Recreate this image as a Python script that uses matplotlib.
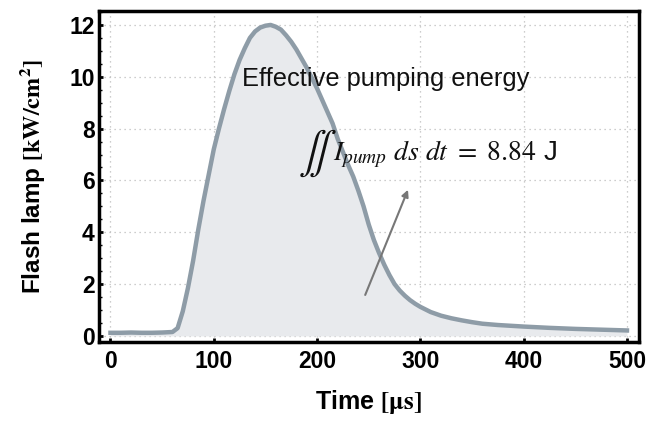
import matplotlib
matplotlib.use("Agg")
import matplotlib.pyplot as plt
from matplotlib.ticker import MultipleLocator

time_us = [0, 10, 20, 30, 40, 50, 60, 65, 70, 75, 80, 85, 90, 95, 100, 105, 110, 115,
           120, 125, 130, 135, 140, 145, 150, 155, 160, 165, 170, 175, 180, 185, 190,
           195, 200, 205, 210, 215, 220, 225, 230, 235, 240, 245, 250, 255, 260, 265,
           270, 275, 280, 285, 290, 295, 300, 310, 320, 330, 340, 350, 360, 375, 400,
           425, 450, 475, 500]
power = [0.12, 0.12, 0.13, 0.12, 0.12, 0.13, 0.15, 0.3, 0.95, 1.85, 2.9, 4.1, 5.2, 6.2,
         7.2, 8.0, 8.75, 9.45, 10.1, 10.65, 11.1, 11.5, 11.75, 11.9, 11.97, 12.0, 11.93,
         11.82, 11.6, 11.35, 11.05, 10.7, 10.35, 9.95, 9.55, 9.1, 8.65, 8.2, 7.6, 7.1,
         6.6, 6.15, 5.6, 5.0, 4.3, 3.7, 3.2, 2.75, 2.35, 2.0, 1.75, 1.55, 1.38, 1.24,
         1.12, 0.92, 0.78, 0.68, 0.6, 0.53, 0.47, 0.42, 0.36, 0.31, 0.27, 0.24, 0.21]

x_ticks = [0, 100, 200, 300, 400, 500]
y_ticks = [0, 2, 4, 6, 8, 10, 12]

plt.rcParams['mathtext.fontset'] = 'stix'
plt.rcParams['font.family'] = ['Liberation Sans', 'DejaVu Sans']

fig = plt.figure(figsize=(6.5, 4.21), dpi=100)
ax = fig.add_axes([0.152, 0.188, 0.831, 0.786])

ax.fill_between(time_us, 0, power, color='#e8eaed', lw=0, zorder=1)
ax.plot(time_us, power, color='#8e9ca7', lw=3.2, zorder=3)

ax.set_xlim(-11.3, 511.6)
ax.set_ylim(-0.23, 12.54)
ax.set_xticks(x_ticks)
ax.set_yticks(y_ticks)
ax.yaxis.set_minor_locator(MultipleLocator(0.5))
ax.grid(True, which='major', linestyle=(0, (1, 3)), color='#bdbdbd', lw=0.9, zorder=0)
ax.set_axisbelow(True)

for s in ax.spines.values():
    s.set_linewidth(2.5)
    s.set_color('black')

ax.tick_params(axis='both', which='major', direction='in', length=3, width=2,
               labelsize=16.5)
ax.tick_params(axis='y', which='major', pad=3)
ax.tick_params(axis='x', which='major', pad=6)
ax.tick_params(axis='y', which='minor', direction='in', length=2, width=1)
for lab in ax.get_xticklabels() + ax.get_yticklabels():
    lab.set_fontweight('bold')

ax.set_xlabel(r'Time $\mathbf{[\mu s]}$', fontsize=18, fontweight='bold', labelpad=11)
ax.set_ylabel(r'Flash lamp $\mathbf{[kW/cm^2]}$', fontsize=17.5, fontweight='bold', labelpad=16)

ax.text(127.6, 9.9, 'Effective pumping energy', fontsize=18.3, ha='left', va='center',
        color='#111111', zorder=5)
ax.text(182, 7.05, r'$\iint$', fontsize=30, ha='left', va='center',
        color='#111111', zorder=5)
ax.text(215, 7.0, r'$I_{pump}\ ds\ dt\ =\ 8.84$ J', fontsize=20, ha='left',
        va='center', color='#111111', zorder=5)

ax.annotate('', xy=(288, 5.64), xytext=(246.6, 1.58),
            arrowprops=dict(arrowstyle='-|>', color='#777777', lw=1.5,
                            mutation_scale=10, shrinkA=0, shrinkB=0), zorder=6)

fig.savefig('out.png', dpi=100)
